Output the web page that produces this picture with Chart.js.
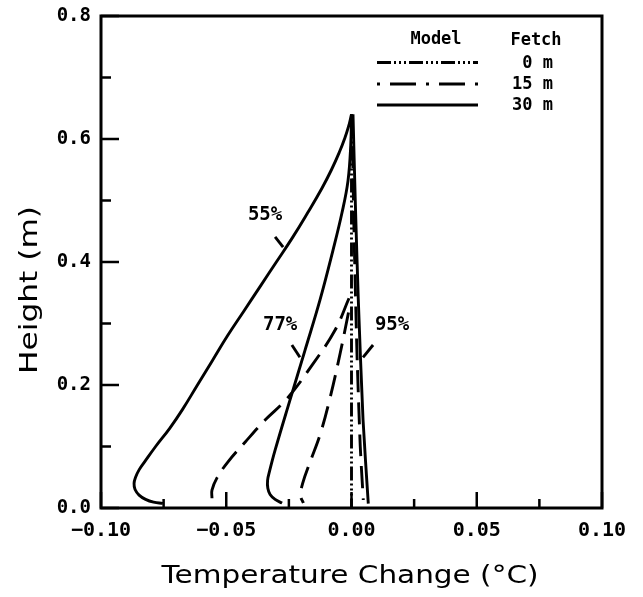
<!DOCTYPE html>
<html><head><meta charset="utf-8">
<script src="https://cdn.jsdelivr.net/npm/chart.js@4"></script>
<style>html,body{margin:0;padding:0;background:#fff}#wrap{width:643px;height:597px;position:relative}</style>
</head><body><div id="wrap"><canvas id="c"></canvas></div>
<script>
// ---- axis ticks ----
const xTickValues = [-0.10, -0.05, 0, 0.05, 0.10];
const xTickLabels = ['\u22120.10', '\u22120.05', '0.00', '0.05', '0.10'];
const xMinorTicks = [-0.075, -0.025, 0.025, 0.075];
const yTickValues = [0, 0.2, 0.4, 0.6, 0.8];
const yTickLabels = ['0.0', '0.2', '0.4', '0.6', '0.8'];
const yMinorTicks = [0.1, 0.3, 0.5, 0.7];

// ---- profiles: height (m) and temperature change (°C) ----
// 30 m fetch (solid)
const h55_30 = [0.640, 0.620, 0.600, 0.580, 0.550, 0.520, 0.480, 0.440, 0.400, 0.360, 0.320, 0.280, 0.240, 0.200, 0.160, 0.130, 0.100, 0.075, 0.062, 0.050, 0.040, 0.030, 0.021, 0.014, 0.0095, 0.0075];
const t55_30 = [0.000, -0.0012, -0.0028, -0.0047, -0.008, -0.0118, -0.0175, -0.0235, -0.030, -0.0365, -0.043, -0.0495, -0.0555, -0.0615, -0.0675, -0.0725, -0.0782, -0.0826, -0.0848, -0.0862, -0.0868, -0.0864, -0.0848, -0.0822, -0.079, -0.0753];
const h77_30 = [0.640, 0.590, 0.532, 0.480, 0.419, 0.338, 0.256, 0.175, 0.094, 0.060, 0.045, 0.032, 0.022, 0.014, 0.008];
const t77_30 = [0.000, -0.0003, -0.0014, -0.0038, -0.0074, -0.0126, -0.0186, -0.0246, -0.0305, -0.0327, -0.0335, -0.0334, -0.0325, -0.0305, -0.0277];
const h95_30 = [0.640, 0.500, 0.340, 0.144, 0.007];
const t95_30 = [0.0006, 0.0015, 0.0027, 0.0046, 0.0067];
// 15 m fetch (dashed)
const h55_15 = [0.341, 0.289, 0.232, 0.178, 0.143, 0.107, 0.075, 0.049, 0.029, 0.016];
const t55_15 = [-0.001, -0.0066, -0.0158, -0.0257, -0.0345, -0.0425, -0.0493, -0.0537, -0.0557, -0.0557];
const h77_15 = [0.318, 0.252, 0.175, 0.120, 0.075, 0.040, 0.020, 0.008];
const t77_15 = [-0.0012, -0.0045, -0.0088, -0.0125, -0.0165, -0.0195, -0.0203, -0.0192];
const h95_15 = [0.640, 0.450, 0.250, 0.100, 0.013];
const t95_15 = [0.0002, 0.001, 0.0022, 0.0035, 0.0047];
// 0 m fetch (dash-dot)
const h_0 = [0.640, 0.000];
const t_0 = [0.000, 0.000];

// ---- curve labels and leader lines ----
const labelNames = ['55%', '77%', '95%'];
const labelT = [-0.0345, -0.0285, 0.0162];
const labelH = [0.476, 0.297, 0.297];
const leader55T = [-0.0305, -0.0273], leader55H = [0.441, 0.424];
const leader77T = [-0.0238, -0.0206], leader77H = [0.265, 0.245];
const leader95T = [0.0046, 0.0086], leader95H = [0.245, 0.265];

// ---- legend ----
const legendFetch = ['0 m', '15 m', '30 m'];

const pts = (t, h) => h.map((v, i) => ({ x: t[i], y: v }));
const DASH = [22, 10];
const DASHDOT = [14, 3, 2, 3, 2, 3, 2, 3];
const LW = 2.9;

function ds(t, h, dash, tension) {
  return {
    data: pts(t, h), showLine: true, borderColor: '#000', backgroundColor: '#000',
    borderWidth: LW, borderDash: dash || [], pointRadius: 0, tension: tension === undefined ? 0.4 : tension,
    borderCapStyle: 'butt', borderJoinStyle: 'round'
  };
}

const datasets = [
  ds(t_0, h_0, DASHDOT, 0),
  ds(t55_30, h55_30, [], 0.45),
  ds(t77_30, h77_30),
  ds(t95_30, h95_30, [], 0.2),
  ds(t55_15, h55_15, DASH),
  ds(t77_15, h77_15, DASH),
  ds(t95_15, h95_15, DASH, 0.2),
  ds(leader55T, leader55H, [], 0),
  ds(leader77T, leader77H, [], 0),
  ds(leader95T, leader95H, [], 0)
];

const MONO = 'bold 19px "DejaVu Sans Mono"';
const MONO_S = 'bold 17px "DejaVu Sans Mono"';

const decor = {
  id: 'decor',
  afterDatasetsDraw(chart) {
    const ctx = chart.ctx, a = chart.chartArea, xs = chart.scales.x, ys = chart.scales.y;
    ctx.save();
    ctx.strokeStyle = '#000'; ctx.fillStyle = '#000';
    // frame
    ctx.lineWidth = 3;
    ctx.strokeRect(a.left, a.top, a.right - a.left, a.bottom - a.top);
    // ticks (inward)
    ctx.lineWidth = 2.5;
    ctx.beginPath();
    yTickValues.forEach(v => { const y = ys.getPixelForValue(v); ctx.moveTo(a.left, y); ctx.lineTo(a.left + 18, y); });
    yMinorTicks.forEach(v => { const y = ys.getPixelForValue(v); ctx.moveTo(a.left, y); ctx.lineTo(a.left + 10, y); });
    xTickValues.forEach(v => { const x = xs.getPixelForValue(v); ctx.moveTo(x, a.bottom); ctx.lineTo(x, a.bottom - 16); });
    xMinorTicks.forEach(v => { const x = xs.getPixelForValue(v); ctx.moveTo(x, a.bottom); ctx.lineTo(x, a.bottom - 9); });
    ctx.stroke();
    // curve labels
    ctx.font = MONO; ctx.textAlign = 'center'; ctx.textBaseline = 'middle';
    labelNames.forEach((s, i) => ctx.fillText(s, xs.getPixelForValue(labelT[i]), ys.getPixelForValue(labelH[i])));
    // legend
    ctx.font = MONO_S; ctx.textBaseline = 'middle';
    ctx.textAlign = 'center';
    ctx.fillText('Model', 436, 40);
    ctx.fillText('Fetch', 536, 41);
    const ly = [62.5, 84, 105];
    const dashes = [DASHDOT, [3, 10, 26, 10], []];
    ctx.lineWidth = LW; ctx.lineCap = 'butt';
    ly.forEach((y, i) => {
      ctx.setLineDash(dashes[i]);
      ctx.beginPath(); ctx.moveTo(377, y); ctx.lineTo(478, y); ctx.stroke();
    });
    ctx.setLineDash([]);
    ctx.textAlign = 'right';
    legendFetch.forEach((s, i) => ctx.fillText(s, 553, ly[i] + 1));
    // axis titles
    ctx.font = '25px "DejaVu Sans"';
    const tx = 'Temperature Change (\u00B0C)';
    const w = ctx.measureText(tx).width;
    const sx = 377 / w;
    ctx.textAlign = 'center'; ctx.textBaseline = 'alphabetic';
    ctx.save(); ctx.translate(350, 583); ctx.scale(sx, 1); ctx.fillText(tx, 0, 0); ctx.restore();
    const ty = 'Height (m)';
    const sy = 168 / ctx.measureText(ty).width;
    ctx.save(); ctx.translate(37, 290); ctx.rotate(-Math.PI / 2); ctx.scale(sy, 1); ctx.fillText(ty, 0, 0); ctx.restore();
    ctx.restore();
  }
};

new Chart(document.getElementById('c'), {
  type: 'scatter',
  data: { datasets },
  options: {
    responsive: true, maintainAspectRatio: false, animation: false,
    layout: { padding: { left: 0, top: 16, right: 41, bottom: 0 } },
    plugins: { legend: { display: false }, tooltip: { enabled: false } },
    scales: {
      x: {
        type: 'linear', min: -0.10, max: 0.10,
        afterBuildTicks: s => { s.ticks = xTickValues.map(v => ({ value: v })); },
        afterFit: s => { s.height = 89; },
        grid: { display: false }, border: { display: false },
        ticks: { autoSkip: false, maxRotation: 0, padding: 3, color: '#000', font: { family: 'DejaVu Sans Mono', size: 20, weight: 'bold' }, callback: (v, i) => xTickLabels[i] }
      },
      y: {
        type: 'linear', min: 0, max: 0.8,
        afterBuildTicks: s => { s.ticks = yTickValues.map(v => ({ value: v })); },
        afterFit: s => { s.width = 101; },
        grid: { display: false }, border: { display: false },
        ticks: { autoSkip: false, padding: 2, color: '#000', font: { family: 'DejaVu Sans Mono', size: 19, weight: 'bold' }, callback: (v, i) => yTickLabels[i] }
      }
    }
  },
  plugins: [decor]
});
</script>
</body></html>
